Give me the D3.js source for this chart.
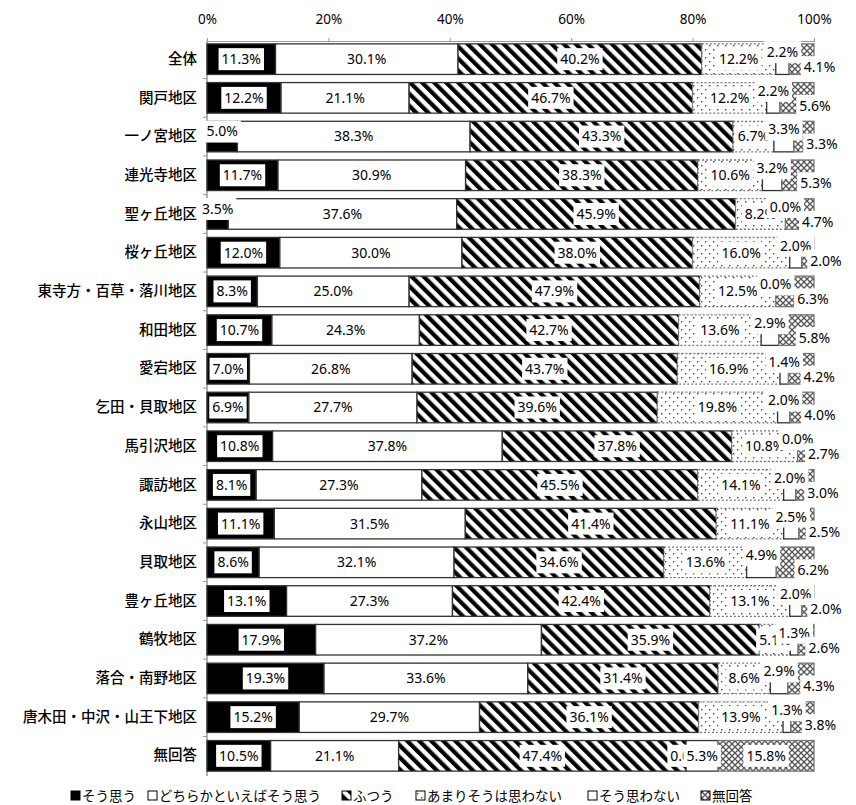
<!DOCTYPE html>
<html><head><meta charset="utf-8">
<script src="https://cdn.jsdelivr.net/npm/d3@7"></script>
<style>
body{margin:0;background:#fff;}
svg{display:block;}
</style></head>
<body>
<svg id="chart" width="856" height="805"></svg>
<script>
const categories = ["全体","関戸地区","一ノ宮地区","連光寺地区","聖ヶ丘地区","桜ヶ丘地区","東寺方・百草・落川地区","和田地区","愛宕地区","乞田・貝取地区","馬引沢地区","諏訪地区","永山地区","貝取地区","豊ヶ丘地区","鶴牧地区","落合・南野地区","唐木田・中沢・山王下地区","無回答"];
const seriesNames = ["そう思う","どちらかといえばそう思う","ふつう","あまりそうは思わない","そう思わない","無回答"];
const soOmou      = [11.3,12.2,5.0,11.7,3.5,12.0,8.3,10.7,7.0,6.9,10.8,8.1,11.1,8.6,13.1,17.9,19.3,15.2,10.5];
const dochiraka   = [30.1,21.1,38.3,30.9,37.6,30.0,25.0,24.3,26.8,27.7,37.8,27.3,31.5,32.1,27.3,37.2,33.6,29.7,21.1];
const futsuu      = [40.2,46.7,43.3,38.3,45.9,38.0,47.9,42.7,43.7,39.6,37.8,45.5,41.4,34.6,42.4,35.9,31.4,36.1,47.4];
const amari       = [12.2,12.2,6.7,10.6,8.2,16.0,12.5,13.6,16.9,19.8,10.8,14.1,11.1,13.6,13.1,5.1,8.6,13.9,0.0];
const soOmowanai  = [2.2,2.2,3.3,3.2,0.0,2.0,0.0,2.9,1.4,2.0,0.0,2.0,2.5,4.9,2.0,1.3,2.9,1.3,5.3];
const mukaitou    = [4.1,5.6,3.3,5.3,4.7,2.0,6.3,5.8,4.2,4.0,2.7,3.0,2.5,6.2,2.0,2.6,4.3,3.8,15.8];
const tickValues  = [0,20,40,60,80,100];

const seriesArrays = [soOmou,dochiraka,futsuu,amari,soOmowanai,mukaitou];
const rows = categories.map((c,i)=>{
  const r = {cat:c};
  seriesNames.forEach((s,k)=>{ r[s]=seriesArrays[k][i]; });
  return r;
});

const svg = d3.select("#chart");
const numFont = "'Noto Sans', 'DejaVu Sans', sans-serif";
const jpFont = "'Noto Sans CJK JP', sans-serif";

// patterns
const defs = svg.append("defs");
const stripe = defs.append("pattern").attr("id","stripe").attr("patternUnits","userSpaceOnUse")
  .attr("width",8.5).attr("height",8.5).attr("patternTransform","rotate(-45)");
stripe.append("rect").attr("width",8.5).attr("height",8.5).attr("fill","#fff");
stripe.append("rect").attr("x",0).attr("width",4.2).attr("height",8.5).attr("fill","#000");

const dots = defs.append("pattern").attr("id","dots").attr("patternUnits","userSpaceOnUse")
  .attr("width",8).attr("height",8);
dots.append("rect").attr("width",8).attr("height",8).attr("fill","#fff");
dots.append("rect").attr("x",1).attr("y",1).attr("width",1.4).attr("height",1.4).attr("fill","#444");
dots.append("rect").attr("x",5).attr("y",5).attr("width",1.4).attr("height",1.4).attr("fill","#444");

const cross = defs.append("pattern").attr("id","cross").attr("patternUnits","userSpaceOnUse")
  .attr("width",6).attr("height",6);
cross.append("rect").attr("width",6).attr("height",6).attr("fill","#fff");
cross.append("path").attr("d","M0,0L6,6M6,0L0,6").attr("stroke","#555").attr("stroke-width",1.3);

const fills = ["#000","#fff","url(#stripe)","url(#dots)","#fff","url(#cross)"];
const strokes = ["#333","#333","#333","#777","#333","#777"];
const dashes = [null,null,null,"2,2",null,null];

const x = d3.scaleLinear().domain([0,100]).range([207,814]);
const y = d3.scaleBand().domain(categories).range([40,775]).paddingInner(0.21).paddingOuter(0.1);

// stack
const stack = d3.stack().keys(seriesNames).offset(d3.stackOffsetExpand);
const stacked = stack(rows);

// top axis
const xAxis = d3.axisTop(x).tickValues(tickValues).tickFormat(d=>d+"%").tickSize(3).tickPadding(14);
const gx = svg.append("g").attr("transform","translate(0,41)").call(xAxis);
gx.select(".domain").attr("stroke","#999");
gx.selectAll(".tick line").attr("stroke","#999");
gx.selectAll(".tick text").attr("font-family",numFont).attr("font-size",13.5).attr("fill","#000");

// left axis (category labels)
const yAxis = d3.axisLeft(y).tickSize(0).tickPadding(10);
const gy = svg.append("g").attr("transform","translate(207,0)").call(yAxis);
gy.select(".domain").remove();
gy.selectAll(".tick text").attr("font-family",jpFont).attr("font-size",14.5).attr("font-weight",500).attr("fill","#000");

// axis line and row-boundary ticks
svg.append("line").attr("x1",207).attr("x2",207).attr("y1",41).attr("y2",776).attr("stroke","#999").attr("stroke-width",1.5);
const step = y.step();
svg.append("g").selectAll("line").data(categories.slice(1)).join("line")
  .attr("x1",203).attr("x2",207)
  .attr("y1",d=>y(d)-step*y.paddingInner()/2).attr("y2",d=>y(d)-step*y.paddingInner()/2)
  .attr("stroke","#999");

// bars
const gBars = svg.append("g");
stacked.forEach((ser,k)=>{
  gBars.append("g").selectAll("rect").data(ser).join("rect")
    .attr("x",d=>x(d[0]*100))
    .attr("y",d=>y(d.data.cat))
    .attr("width",d=>Math.max(0,x(d[1]*100)-x(d[0]*100)))
    .attr("height",y.bandwidth())
    .attr("fill",fills[k])
    .attr("stroke",strokes[k])
    .attr("stroke-width",1.3)
    .attr("stroke-dasharray",dashes[k]);
});

// labels
const gLab = svg.append("g");
stacked.forEach((ser,k)=>{
  ser.forEach(d=>{
    const v = d.data[seriesNames[k]];
    const x0 = x(d[0]*100), x1 = x(d[1]*100);
    let cx = (x0+x1)/2;
    let cy = y(d.data.cat)+y.bandwidth()/2;
    if(k===0 && v<6) cy -= 5;
    if(k===4 && v<5) cy -= 7;
    if(k===5 && v<7){ cx += 18; cy += 8; }
    const g = gLab.append("g");
    const t = g.append("text").attr("x",cx).attr("y",cy).attr("dy","0.35em")
      .attr("text-anchor","middle").attr("font-family",numFont).attr("font-size",14)
      .attr("fill","#000").text(v.toFixed(1)+"%");
    const w = t.node().getComputedTextLength();
    g.insert("rect","text").attr("x",cx-w/2-3).attr("y",cy-11).attr("width",w+6).attr("height",22).attr("fill","#fff");
  });
});

// legend
const legendItems = [
  {name:seriesNames[0], x:71},
  {name:seriesNames[1], x:148},
  {name:seriesNames[2], x:342},
  {name:seriesNames[3], x:416},
  {name:seriesNames[4], x:588},
  {name:seriesNames[5], x:701}
];
const gLeg = svg.append("g");
legendItems.forEach((it,k)=>{
  gLeg.append("rect").attr("x",it.x).attr("y",791).attr("width",9).attr("height",9)
    .attr("fill",fills[k]).attr("stroke","#000").attr("stroke-width",1);
  gLeg.append("text").attr("x",it.x+11).attr("y",796).attr("dy","0.35em")
    .attr("font-family",jpFont).attr("font-size",13.5).attr("fill","#000").text(it.name);
});
</script>
</body></html>
